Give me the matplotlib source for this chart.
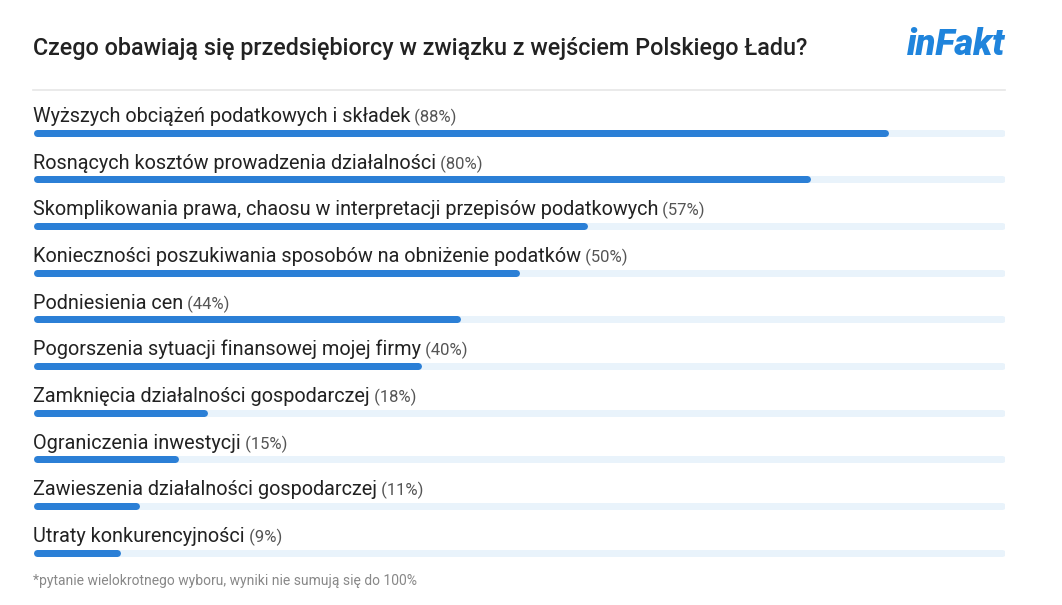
import matplotlib.pyplot as plt
from matplotlib.lines import Line2D

# dane z wykresu
labels = [
    "Wyższych obciążeń podatkowych i składek",
    "Rosnących kosztów prowadzenia działalności",
    "Skomplikowania prawa, chaosu w interpretacji przepisów podatkowych",
    "Konieczności poszukiwania sposobów na obniżenie podatków",
    "Podniesienia cen",
    "Pogorszenia sytuacji finansowej mojej firmy",
    "Zamknięcia działalności gospodarczej",
    "Ograniczenia inwestycji",
    "Zawieszenia działalności gospodarczej",
    "Utraty konkurencyjności",
]
values = [88, 80, 57, 50, 44, 40, 18, 15, 11, 9]

title = "Czego obawiają się przedsiębiorcy w związku z wejściem Polskiego Ładu?"
footnote = "*pytanie wielokrotnego wyboru, wyniki nie sumują się do 100%"

plt.rcParams['font.family'] = ['Roboto', 'DejaVu Sans']

W, H = 1062, 605
fig = plt.figure(figsize=(W / 100, H / 100), dpi=100)
fig.patch.set_facecolor('white')

ax = fig.add_axes([33 / W, 29 / H, 972 / W, 476 / H])
ax.set_xlim(0, 100)
ax.set_ylim(9.5, -0.7)
ax.axis('off')

# paski z zaokrąglonymi końcami (lw 7 px), r = połowa grubości w jednostkach osi x
lw = 7 * 72 / 100
r = 3.5 * 100 / 972
for i, v in enumerate(values):
    ax.plot([r, 100 - r], [i, i], color='#e9f3fb', lw=lw, solid_capstyle='round', zorder=1)
    ax.plot([r, v - r], [i, i], color='#2b7fd6', lw=lw, solid_capstyle='round', zorder=2)

for i, (lab, v) in enumerate(zip(labels, values)):
    t = ax.text(0, i - 0.23, lab, fontsize=14.3, color='#222222', va='baseline', ha='left')
    ax.annotate(f" ({v}%)", xy=(1, 0), xycoords=t, fontsize=12, color='#555555',
                va='bottom', ha='left')

# tytuł, logo, linia, przypis
fig.text(33 / W, 1 - 48 / H, title, fontsize=16.8, fontweight='medium', color='#222222',
         va='center', ha='left')
fig.text(1005 / W, 1 - 45 / H, "inFakt", fontsize=26, fontweight='heavy', fontstyle='italic',
         color='#1f84dc', va='center', ha='right')
fig.add_artist(Line2D([33 / W, 1005 / W], [1 - 90 / H, 1 - 90 / H], color='#e6e6e6', lw=1.2))
fig.text(33 / W, 1 - 581 / H, footnote, fontsize=10, color='#888888', va='center', ha='left')

fig.savefig('out.png', dpi=100, facecolor='white')
